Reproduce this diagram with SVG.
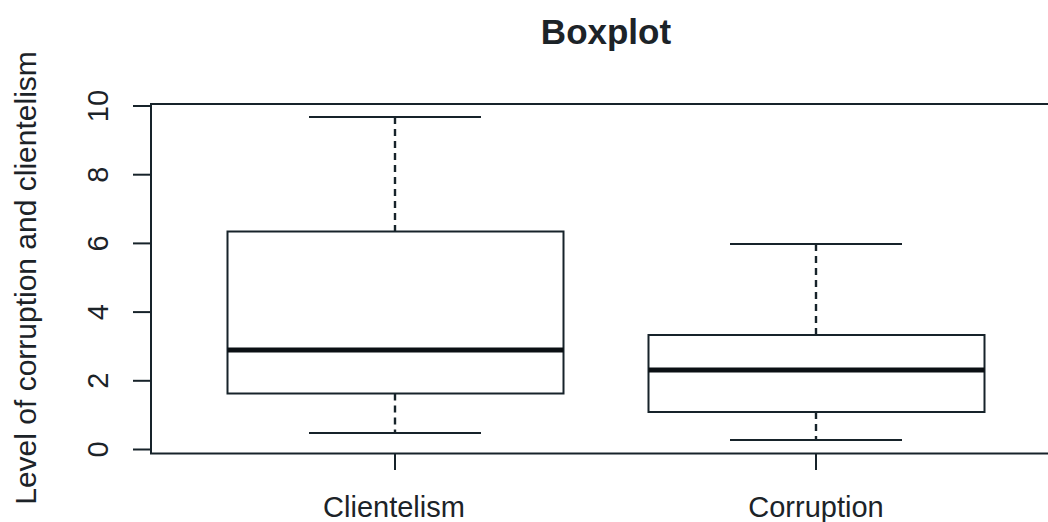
<svg xmlns="http://www.w3.org/2000/svg" width="1048" height="522" viewBox="0 0 1048 522">
  <style>
    .frame { fill: none; stroke: #17232a; stroke-width: 2; }
    .tick { stroke: #17232a; stroke-width: 2; }
    .box { fill: #ffffff; stroke: #17232a; stroke-width: 2; }
    .median { stroke: #0b1014; stroke-width: 5; }
    .whisker { stroke: #17232a; stroke-width: 2.4; stroke-dasharray: 7 5; }
    .cap { stroke: #17232a; stroke-width: 2; }
    text { font-family: "Liberation Sans", Arial, sans-serif; fill: #1c2328; }
    .title { font-size: 35px; font-weight: bold; }
    .lab { font-size: 29px; }
    .ylab { font-size: 30px; }
  </style>
  <rect width="1048" height="522" fill="#ffffff"/>

  <!-- title -->
  <text class="title" x="606" y="44" text-anchor="middle">Boxplot</text>

  <!-- plot frame (right edge lies beyond the canvas) -->
  <rect class="frame" x="151" y="104" width="910" height="349.5"/>

  <!-- y axis ticks and labels -->
  <g id="y-axis">
    <line class="tick" x1="133" y1="449.5" x2="151" y2="449.5"/>
    <line class="tick" x1="133" y1="380.8" x2="151" y2="380.8"/>
    <line class="tick" x1="133" y1="312.1" x2="151" y2="312.1"/>
    <line class="tick" x1="133" y1="243.4" x2="151" y2="243.4"/>
    <line class="tick" x1="133" y1="174.7" x2="151" y2="174.7"/>
    <line class="tick" x1="133" y1="106" x2="151" y2="106"/>
    <text class="lab" transform="translate(108,449.5) rotate(-90)" text-anchor="middle">0</text>
    <text class="lab" transform="translate(108,380.8) rotate(-90)" text-anchor="middle">2</text>
    <text class="lab" transform="translate(108,312.1) rotate(-90)" text-anchor="middle">4</text>
    <text class="lab" transform="translate(108,243.4) rotate(-90)" text-anchor="middle">6</text>
    <text class="lab" transform="translate(108,174.7) rotate(-90)" text-anchor="middle">8</text>
    <text class="lab" transform="translate(108,106) rotate(-90)" text-anchor="middle">10</text>
    <text class="ylab" transform="translate(36,278) rotate(-90)" text-anchor="middle">Level of corruption and clientelism</text>
  </g>

  <!-- x axis ticks and labels -->
  <g id="x-axis">
    <line class="tick" x1="395" y1="453" x2="395" y2="470"/>
    <line class="tick" x1="816" y1="453" x2="816" y2="470"/>
    <text class="lab" x="394" y="517" text-anchor="middle">Clientelism</text>
    <text class="lab" x="816" y="517" text-anchor="middle">Corruption</text>
  </g>

  <!-- whiskers -->
  <g id="connectors">
    <line class="whisker" x1="395" y1="117" x2="395" y2="231.5"/>
    <line class="whisker" x1="395" y1="393.5" x2="395" y2="433"/>
    <line class="whisker" x1="816" y1="244" x2="816" y2="335"/>
    <line class="whisker" x1="816" y1="412" x2="816" y2="440"/>
  </g>

  <g id="clientelism">
    <line class="cap" x1="309" y1="117" x2="481" y2="117"/>
    <line class="cap" x1="309" y1="433" x2="481" y2="433"/>
    <rect class="box" x="227.5" y="231.5" width="336" height="162"/>
    <line class="median" x1="227.5" y1="350" x2="563.5" y2="350"/>
  </g>

  <g id="corruption">
    <line class="cap" x1="730" y1="244" x2="902" y2="244"/>
    <line class="cap" x1="730" y1="440" x2="902" y2="440"/>
    <rect class="box" x="648.5" y="335" width="336" height="77"/>
    <line class="median" x1="648.5" y1="370" x2="984.5" y2="370"/>
  </g>
</svg>
